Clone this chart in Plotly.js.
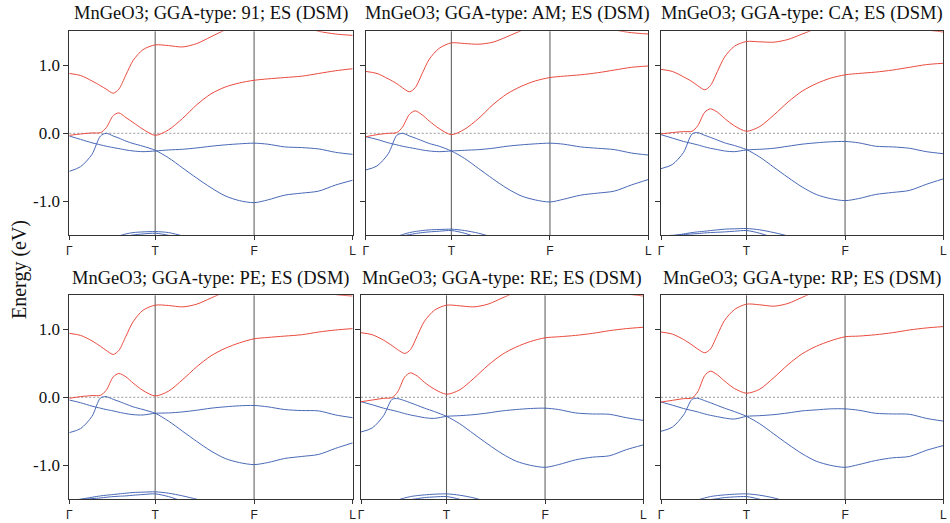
<!DOCTYPE html>
<html>
<head>
<meta charset="utf-8">
<script src="https://cdn.plot.ly/plotly-3.0.1.min.js"></script>
<style>html,body{margin:0;padding:0;background:#fff;}#chart{width:950px;height:523px;}</style>
</head>
<body>
<div id="chart"></div>
<script>
// k-path grid (Γ=0, T=0.303, F=0.652, L=1)
const K = [0,0.04,0.08,0.11,0.13,0.155,0.175,0.2,0.225,0.26,0.303,0.35,0.4,0.45,0.5,0.55,0.6,0.652,0.7,0.76,0.82,0.88,0.94,1.0];
const tickK = [0,0.303,0.652,1];
const tickLabels = ['Γ','T','F','L'];
const ggaTypes = ['91','AM','CA','PE','RE','RP'];
const yTickVals = [-1,0,1];
const yTickText = ['-1.0','0.0','1.0'];

// 91
const c1_91 = [0.88,0.85,0.77,0.70,0.65,0.59,0.65,0.86,1.07,1.23,1.30,1.29,1.27,1.32,1.42,1.52,1.6,1.66,1.68,1.65,1.57,1.50,1.46,1.44];
const c2_91 = [-0.03,-0.01,0.005,0.01,0.08,0.26,0.30,0.23,0.16,0.06,-0.03,0.05,0.22,0.42,0.58,0.68,0.74,0.78,0.8,0.82,0.84,0.88,0.92,0.95];
const v1_91 = [-0.56,-0.49,-0.31,-0.04,0.0,-0.04,-0.07,-0.115,-0.15,-0.19,-0.25,-0.36,-0.51,-0.66,-0.80,-0.92,-0.99,-1.02,-0.98,-0.91,-0.88,-0.85,-0.76,-0.69];
const v2_91 = [-0.04,-0.09,-0.14,-0.17,-0.19,-0.21,-0.225,-0.245,-0.26,-0.27,-0.26,-0.245,-0.235,-0.215,-0.19,-0.17,-0.155,-0.145,-0.16,-0.2,-0.21,-0.23,-0.28,-0.31];
const v3_91 = [-2.0,-1.92,-1.8,-1.7,-1.63,-1.55,-1.51,-1.48,-1.46,-1.45,-1.445,-1.46,-1.51,-1.58,-1.66,-1.74,-1.82,-1.9,-1.95,-2.0,-2.0,-2.0,-2.0,-2.0];
const v4_91 = [-1.75,-1.71,-1.66,-1.62,-1.59,-1.56,-1.535,-1.515,-1.495,-1.48,-1.47,-1.5,-1.57,-1.65,-1.73,-1.8,-1.87,-1.93,-1.98,-2.0,-2.0,-2.0,-2.0,-2.0];
// AM
const c1_AM = [0.91,0.88,0.80,0.73,0.67,0.61,0.67,0.88,1.09,1.25,1.33,1.32,1.31,1.34,1.42,1.51,1.6,1.66,1.68,1.65,1.58,1.52,1.48,1.46];
const c2_AM = [-0.05,-0.02,0.0,0.01,0.09,0.28,0.33,0.27,0.18,0.07,-0.02,0.06,0.22,0.42,0.58,0.69,0.77,0.82,0.84,0.86,0.89,0.93,0.97,0.99];
const v1_AM = [-0.54,-0.48,-0.30,-0.03,0.0,-0.04,-0.07,-0.11,-0.15,-0.19,-0.26,-0.37,-0.52,-0.67,-0.81,-0.92,-0.98,-1.01,-0.97,-0.91,-0.88,-0.85,-0.76,-0.68];
const v2_AM = [-0.05,-0.09,-0.14,-0.17,-0.19,-0.21,-0.225,-0.245,-0.26,-0.27,-0.26,-0.25,-0.24,-0.22,-0.19,-0.17,-0.155,-0.145,-0.16,-0.2,-0.22,-0.24,-0.29,-0.32];
const v3_AM = [-1.8,-1.7,-1.58,-1.52,-1.49,-1.46,-1.445,-1.43,-1.42,-1.415,-1.41,-1.43,-1.47,-1.53,-1.6,-1.68,-1.76,-1.84,-1.9,-1.96,-2,-2,-2,-2];
const v4_AM = [-1.65,-1.6,-1.56,-1.53,-1.51,-1.49,-1.475,-1.46,-1.45,-1.44,-1.43,-1.47,-1.54,-1.62,-1.7,-1.78,-1.86,-1.92,-1.97,-2,-2,-2,-2,-2];
// CA
const c1_CA = [0.94,0.91,0.83,0.76,0.70,0.64,0.70,0.91,1.12,1.28,1.35,1.345,1.34,1.38,1.46,1.54,1.62,1.68,1.7,1.68,1.62,1.56,1.52,1.49];
const c2_CA = [-0.01,0.01,0.025,0.03,0.11,0.31,0.36,0.31,0.22,0.11,0.03,0.1,0.27,0.46,0.62,0.73,0.81,0.86,0.88,0.9,0.93,0.97,1.01,1.03];
const v1_CA = [-0.52,-0.46,-0.28,-0.01,0.01,-0.03,-0.06,-0.1,-0.14,-0.18,-0.24,-0.35,-0.5,-0.65,-0.79,-0.9,-0.96,-0.99,-0.96,-0.9,-0.87,-0.84,-0.75,-0.67];
const v2_CA = [-0.02,-0.07,-0.12,-0.15,-0.17,-0.2,-0.22,-0.24,-0.26,-0.27,-0.245,-0.235,-0.22,-0.19,-0.16,-0.14,-0.125,-0.12,-0.14,-0.19,-0.2,-0.22,-0.27,-0.30];
const v3_CA = [-1.56,-1.51,-1.48,-1.46,-1.45,-1.44,-1.43,-1.42,-1.41,-1.405,-1.40,-1.42,-1.46,-1.51,-1.57,-1.64,-1.72,-1.8,-1.87,-1.94,-2,-2,-2,-2];
const v4_CA = [-1.51,-1.5,-1.49,-1.48,-1.475,-1.465,-1.46,-1.455,-1.45,-1.44,-1.43,-1.47,-1.54,-1.62,-1.7,-1.78,-1.86,-1.92,-1.97,-2,-2,-2,-2,-2];
// PE
const c1_PE = [0.94,0.91,0.83,0.75,0.69,0.63,0.69,0.9,1.11,1.28,1.355,1.35,1.33,1.37,1.46,1.55,1.63,1.69,1.71,1.69,1.63,1.57,1.51,1.49];
const c2_PE = [-0.015,0.01,0.025,0.03,0.1,0.3,0.35,0.3,0.21,0.1,0.02,0.09,0.26,0.45,0.61,0.72,0.8,0.86,0.88,0.9,0.92,0.96,0.99,1.01];
const v1_PE = [-0.52,-0.46,-0.28,-0.01,0.01,-0.03,-0.06,-0.1,-0.14,-0.18,-0.235,-0.35,-0.5,-0.65,-0.79,-0.9,-0.96,-0.99,-0.96,-0.9,-0.87,-0.84,-0.75,-0.67];
const v2_PE = [-0.04,-0.08,-0.13,-0.16,-0.18,-0.2,-0.22,-0.24,-0.255,-0.26,-0.235,-0.23,-0.215,-0.19,-0.16,-0.14,-0.125,-0.12,-0.14,-0.18,-0.195,-0.2,-0.26,-0.30];
const v3_PE = [-1.54,-1.5,-1.47,-1.45,-1.44,-1.43,-1.42,-1.41,-1.40,-1.395,-1.39,-1.41,-1.45,-1.5,-1.56,-1.63,-1.71,-1.79,-1.86,-1.93,-2,-2,-2,-2];
const v4_PE = [-1.51,-1.5,-1.49,-1.48,-1.47,-1.46,-1.455,-1.45,-1.44,-1.43,-1.42,-1.46,-1.53,-1.61,-1.69,-1.77,-1.85,-1.91,-1.96,-2,-2,-2,-2,-2];
// RE
const c1_RE = [0.95,0.92,0.84,0.76,0.70,0.645,0.70,0.91,1.12,1.28,1.355,1.345,1.33,1.37,1.46,1.55,1.63,1.69,1.71,1.69,1.63,1.57,1.52,1.49];
const c2_RE = [-0.065,-0.04,-0.015,-0.005,0.08,0.30,0.36,0.31,0.22,0.12,0.045,0.11,0.28,0.47,0.63,0.74,0.82,0.875,0.89,0.91,0.94,0.98,1.01,1.03];
const v1_RE = [-0.51,-0.45,-0.27,-0.03,-0.02,-0.05,-0.08,-0.12,-0.16,-0.21,-0.28,-0.39,-0.54,-0.69,-0.83,-0.94,-1.0,-1.03,-0.99,-0.92,-0.88,-0.86,-0.77,-0.70];
const v2_RE = [-0.065,-0.11,-0.16,-0.19,-0.21,-0.24,-0.26,-0.28,-0.3,-0.31,-0.28,-0.27,-0.255,-0.23,-0.2,-0.18,-0.165,-0.16,-0.18,-0.23,-0.245,-0.25,-0.3,-0.34];
const v3_RE = [-1.85,-1.75,-1.62,-1.54,-1.51,-1.48,-1.46,-1.445,-1.435,-1.425,-1.42,-1.44,-1.48,-1.54,-1.61,-1.69,-1.77,-1.85,-1.91,-1.97,-2,-2,-2,-2];
const v4_RE = [-1.75,-1.68,-1.61,-1.57,-1.55,-1.52,-1.505,-1.49,-1.475,-1.465,-1.46,-1.5,-1.57,-1.65,-1.73,-1.81,-1.88,-1.94,-1.98,-2,-2,-2,-2,-2];
// RP
const c1_RP = [0.96,0.93,0.85,0.77,0.71,0.655,0.71,0.92,1.13,1.29,1.37,1.36,1.34,1.38,1.47,1.56,1.64,1.7,1.72,1.7,1.65,1.59,1.55,1.52];
const c2_RP = [-0.07,-0.045,-0.02,-0.01,0.08,0.32,0.385,0.33,0.24,0.13,0.06,0.12,0.29,0.48,0.64,0.75,0.83,0.89,0.9,0.92,0.95,0.99,1.02,1.04];
const v1_RP = [-0.50,-0.44,-0.26,-0.03,-0.015,-0.05,-0.08,-0.12,-0.16,-0.21,-0.28,-0.39,-0.54,-0.69,-0.83,-0.94,-1.0,-1.03,-0.99,-0.93,-0.89,-0.87,-0.78,-0.71];
const v2_RP = [-0.07,-0.115,-0.165,-0.195,-0.215,-0.245,-0.265,-0.285,-0.305,-0.32,-0.28,-0.27,-0.255,-0.23,-0.2,-0.185,-0.17,-0.17,-0.19,-0.235,-0.245,-0.25,-0.31,-0.35];
const v3_RP = [-1.85,-1.75,-1.62,-1.54,-1.51,-1.48,-1.46,-1.445,-1.435,-1.425,-1.42,-1.44,-1.48,-1.54,-1.61,-1.69,-1.77,-1.85,-1.91,-1.97,-2,-2,-2,-2];
const v4_RP = [-1.75,-1.68,-1.61,-1.57,-1.55,-1.52,-1.505,-1.49,-1.475,-1.465,-1.46,-1.5,-1.57,-1.65,-1.73,-1.81,-1.88,-1.94,-1.98,-2,-2,-2,-2,-2];

const condBands = [[c1_91,c2_91],[c1_AM,c2_AM],[c1_CA,c2_CA],[c1_PE,c2_PE],[c1_RE,c2_RE],[c1_RP,c2_RP]];
const valBands = [[v1_91,v2_91,v3_91,v4_91],[v1_AM,v2_AM,v3_AM,v4_AM],[v1_CA,v2_CA,v3_CA,v4_CA],
                  [v1_PE,v2_PE,v3_PE,v4_PE],[v1_RE,v2_RE,v3_RE,v4_RE],[v1_RP,v2_RP,v3_RP,v4_RP]];

const RED = '#e94b3e', BLUE = '#4868b6';
const SERIF = 'Liberation Serif';
const SANS = 'Liberation Sans';
const W = 950, H = 523;
// pixel boxes [x0,x1,yTop,yBottom]
const boxes = [
  [69.3,352.7,31.3,235.3],[365.7,648.3,31.3,235.3],[661,943.3,31.3,235.3],
  [69.3,352.7,295.3,499.3],[361,643.3,295.3,499.3],[661,943.3,295.3,499.3]
];

const traces = [];
const layout = {
  width: W, height: H, margin: {l:0,r:0,t:0,b:0},
  paper_bgcolor: '#fff', plot_bgcolor: '#fff', showlegend: false,
  shapes: [], annotations: []
};

ggaTypes.forEach((g, i) => {
  const n = i + 1;
  const xa = n === 1 ? 'x' : 'x' + n;
  const ya = n === 1 ? 'y' : 'y' + n;
  const b = boxes[i];
  const common = {mode:'lines', xaxis: xa, yaxis: ya, hoverinfo:'skip', line:{shape:'spline', smoothing:0.8, width:1}};
  valBands[i].forEach(arr => traces.push(Object.assign({}, common, {x: K, y: arr, line: Object.assign({}, common.line, {color: BLUE})})));
  condBands[i].forEach(arr => traces.push(Object.assign({}, common, {x: K, y: arr, line: Object.assign({}, common.line, {color: RED})})));

  const axX = {
    domain: [b[0]/W, b[1]/W], range: [0,1], anchor: ya,
    tickmode:'array', tickvals: tickK, ticktext: tickLabels,
    ticks:'outside', ticklen:4, tickcolor:'#333', tickwidth:1,
    showline:true, mirror:true, linecolor:'#333', linewidth:1,
    showgrid:false, zeroline:false,
    tickfont:{family:SANS, size:12, color:'#222'}
  };
  const axY = {
    domain: [1 - b[3]/H, 1 - b[2]/H], range: [-1.5,1.5], anchor: xa,
    tickmode:'array', tickvals: yTickVals, ticktext: yTickText,
    ticks:'outside', ticklen:5, tickcolor:'#333', tickwidth:1,
    showline:true, mirror:true, linecolor:'#333', linewidth:1,
    showgrid:false, zeroline:false, showticklabels: (i % 3 === 0),
    tickfont:{family:SERIF, size:17, color:'#111'}
  };
  layout['xaxis' + (n === 1 ? '' : n)] = axX;
  layout['yaxis' + (n === 1 ? '' : n)] = axY;

  [tickK[1], tickK[2]].forEach(kv => layout.shapes.push({
    type:'line', xref: xa, yref: ya + ' domain', x0: kv, x1: kv, y0: 0, y1: 1,
    line:{color:'#555', width:1}, layer:'below'
  }));
  layout.shapes.push({
    type:'line', xref: xa + ' domain', yref: ya, x0: 0, x1: 1, y0: 0, y1: 0,
    line:{color:'#999', width:1, dash:'2px,2px'}, layer:'below'
  });
  const ty = i < 3 ? 14 : 278;
  layout.annotations.push({
    xref:'paper', yref:'paper', x: (b[0]+b[1])/2/W, y: 1 - ty/H,
    xanchor:'center', yanchor:'middle', showarrow:false,
    text: 'MnGeO3; GGA-type: ' + g + '; ES (DSM)',
    font:{family:SERIF, size:18.5, color:'#111'}
  });
});

layout.annotations.push({
  xref:'paper', yref:'paper', x: 19/W, y: 1 - 270/H, xanchor:'center', yanchor:'middle',
  showarrow:false, textangle:-90, text:'Energy (eV)',
  font:{family:SERIF, size:20, color:'#111'}
});

Plotly.newPlot('chart', traces, layout, {staticPlot:true, displayModeBar:false});
</script>
</body>
</html>
